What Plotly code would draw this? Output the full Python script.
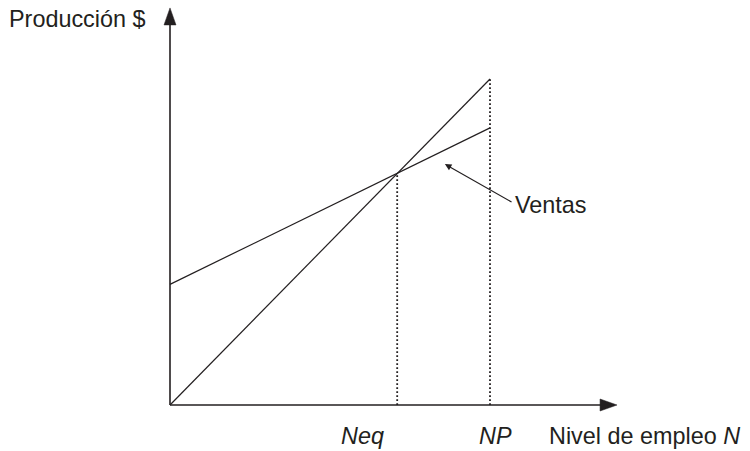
import plotly.graph_objects as go

# ---- data (arbitrary units) ----
x_pts = [0, 10]
produccion = [0, 10]        # straight line through origin
ventas = [3.7, 8.5]         # "Ventas" line
neq = 7.1                   # x of the intersection (Neq)
npx = 10                    # x of NP
x_axis_end = 13.97
y_axis_end = 12.18
ventas_arrow_head = (8.59, 7.39)
ventas_arrow_tail = (10.72, 6.2)

labels_x = ["Neq", "NP"]
x_title = "Nivel de empleo <i>N</i>"
y_title = "Producción $"
ventas_label = "Ventas"

# ---- layout scale (pixels per unit) ----
W, H = 750, 451
PXX, PXY = 32.0, 32.6
ORIG_X, ORIG_Y = 170, 405

xr = [-ORIG_X / PXX, (W - ORIG_X) / PXX]
yr = [-(H - ORIG_Y) / PXY, ORIG_Y / PXY]

ink = "#231f20"
font = "Liberation Sans, Arial, sans-serif"
fs = 23.4

fig = go.Figure()

fig.add_trace(go.Scatter(x=x_pts, y=produccion, mode="lines",
                         line=dict(color=ink, width=1.2), hoverinfo="skip"))
fig.add_trace(go.Scatter(x=x_pts, y=ventas, mode="lines",
                         line=dict(color=ink, width=1.2), hoverinfo="skip"))

# dotted verticals
ventas_at_neq = ventas[0] + (ventas[1] - ventas[0]) * (neq - x_pts[0]) / (x_pts[1] - x_pts[0])
fig.add_trace(go.Scatter(x=[neq, neq], y=[0, ventas_at_neq], mode="lines",
                         line=dict(color=ink, width=1.8, dash="1.8px,2.2px"), hoverinfo="skip"))
fig.add_trace(go.Scatter(x=[npx, npx], y=[0, produccion[1]], mode="lines",
                         line=dict(color=ink, width=1.8, dash="1.8px,2.2px"), hoverinfo="skip"))

shapes = []
# axes lines
shapes.append(dict(type="line", x0=0, y0=0, x1=x_axis_end - 14 / PXX, y1=0,
                   line=dict(color=ink, width=1.6)))
shapes.append(dict(type="line", x0=0, y0=0, x1=0, y1=y_axis_end - 14 / PXY,
                   line=dict(color=ink, width=1.6)))
# arrowheads
L, HW = 17, 6
xa = x_axis_end
shapes.append(dict(type="path",
                   path=f"M {xa},0 L {xa - L / PXX},{HW / PXY} L {xa - L / PXX},{-HW / PXY} Z",
                   fillcolor=ink, line=dict(color=ink, width=0.5)))
ya = y_axis_end
shapes.append(dict(type="path",
                   path=f"M 0,{ya} L {HW / PXX},{ya - L / PXY} L {-HW / PXX},{ya - L / PXY} Z",
                   fillcolor=ink, line=dict(color=ink, width=0.5)))

annotations = [
    dict(x=ventas_arrow_head[0], y=ventas_arrow_head[1], ax=ventas_arrow_tail[0], ay=ventas_arrow_tail[1],
         axref="x", ayref="y", xref="x", yref="y", text="", showarrow=True,
         arrowhead=2, arrowsize=1.1, arrowwidth=1.2, arrowcolor=ink),
    dict(x=ventas_arrow_tail[0], y=ventas_arrow_tail[1], xref="x", yref="y", text=ventas_label,
         showarrow=False, xanchor="left", yanchor="middle", xshift=0, yshift=-2,
         font=dict(family=font, size=fs, color=ink)),
    dict(x=neq, y=0, xref="x", yref="y", text=f"<i>{labels_x[0]}</i>", showarrow=False,
         xanchor="right", yanchor="middle", xshift=-11, yshift=-31,
         font=dict(family=font, size=fs, color=ink)),
    dict(x=npx, y=0, xref="x", yref="y", text=f"<i>{labels_x[1]}</i>", showarrow=False,
         xanchor="left", yanchor="middle", xshift=-13, yshift=-31,
         font=dict(family=font, size=fs, color=ink)),
    dict(x=x_axis_end, y=0, xref="x", yref="y", text=x_title, showarrow=False,
         xanchor="left", yanchor="middle", xshift=-70, yshift=-31,
         font=dict(family=font, size=fs, color=ink)),
    dict(x=7 / W, y=1 - 19 / H, xref="paper", yref="paper", text=y_title, showarrow=False,
         xanchor="left", yanchor="middle",
         font=dict(family=font, size=fs, color=ink)),
]

fig.update_layout(
    width=W, height=H,
    margin=dict(l=0, r=0, t=0, b=0),
    paper_bgcolor="white", plot_bgcolor="white",
    showlegend=False,
    xaxis=dict(range=xr, visible=False, fixedrange=True),
    yaxis=dict(range=yr, visible=False, fixedrange=True),
    shapes=shapes,
    annotations=annotations,
)

fig.write_html("out.html",
               config={"displayModeBar": False},
               post_script="document.body.style.margin='0';document.body.style.overflow='hidden';")
